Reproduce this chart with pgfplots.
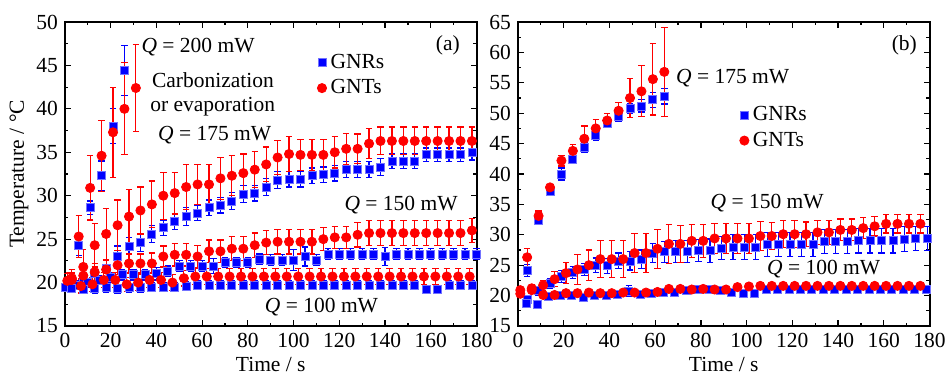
\documentclass[border=0pt]{standalone}
\usepackage{pgfplots}
\pgfplotsset{compat=1.18}
\usepackage{fontspec}
\setmainfont{Liberation Serif}
\definecolor{myblue}{RGB}{0,0,255}
\definecolor{myred}{RGB}{255,0,0}
\newcommand\fs{\fontsize{10.75}{12.5}\selectfont}
\pgfplotsset{
  panel/.style={
    scale only axis, width=205.75pt, height=152pt,
    xmin=0, xmax=180, xtick={0,20,...,180}, minor x tick num=1,
    minor y tick num=1,
    tick align=inside, tick pos=both,
    major tick length=3pt, minor tick length=1.6pt,
    axis line style={line width=1pt},
    every tick/.style={black, line width=0.6pt},
    tick label style={font=\fs},
    /pgf/number format/assume math mode=true,
    clip=false,
    every axis x label/.style={at={(axis description cs:0.5,-0.128)}, anchor=center, font=\fs},
    every axis y label/.style={at={(axis description cs:-0.112,0.5)}, rotate=90, anchor=center, font=\fs},
    legend style={draw=none, fill=none, font=\fs, inner sep=0pt, outer sep=0pt, row sep=0pt},
    legend cell align=left,
  },
  gnr/.style={only marks, mark=square*, mark size=2pt, color=myblue,
    mark options={fill=myblue, draw=myblue!55, line width=0.4pt},
    error bars/y dir=both, error bars/y explicit,
    error bars/error bar style={myblue, line width=0.6pt},
    error bars/error mark options={myblue, rotate=90, mark size=1.6pt, line width=0.6pt}},
  gnt/.style={only marks, mark=*, mark size=2.3pt, color=myred,
    mark options={fill=myred, draw=myred},
    error bars/y dir=both, error bars/y explicit,
    error bars/error bar style={myred, line width=0.6pt},
    error bars/error mark options={myred, rotate=90, mark size=1.6pt, line width=0.6pt}},
}
\begin{document}
\begin{tikzpicture}
\useasboundingbox (0,0) rectangle (475.5pt,189pt);
% ---------------- panel (a) ----------------
\begin{axis}[panel, at={(32.5pt,26pt)}, anchor=south west,
  ymin=15, ymax=50, ytick={15,20,...,50},
  xlabel={Time / s}, ylabel={Temperature / °C},
  legend style={at={(axis cs:110.4,43.84)}, anchor=west}]
\addplot[gnr] table[x=t,y=v,y error=e] {
t v e
3 19.8 0.5
8 20.3 0.6
13 21.0 0.8
18 21.6 1.0
23 23.0 1.2
28 24.2 1.0
33 24.6 1.0
38 25.6 1.0
43 26.3 0.9
48 27.0 0.9
53 27.6 1.0
58 28.0 0.9
63 28.6 0.9
68 28.9 0.9
73 29.4 1.0
78 30.2 1.0
83 30.3 0.9
88 31.0 1.0
93 31.8 1.0
98 31.9 0.9
103 31.9 0.9
108 32.3 0.9
113 32.4 0.9
118 32.6 0.9
123 33.0 0.9
128 33.0 0.9
133 33.0 0.9
138 33.3 1.0
143 34.0 0.9
148 34.0 0.9
153 34.0 0.9
158 34.7 0.8
163 34.7 0.8
168 34.7 0.8
173 34.7 0.8
178 35.0 0.9
};
\addlegendentry{GNRs}
\addplot[gnr, forget plot] table[x=t,y=v,y error=e] {
t v e
1 19.6 0.5
6 24.3 1.2
11 28.6 0.8
16 32.3 1.7
21 38.0 2.0
26 44.4 2.9
};
\addplot[gnr, forget plot] table[x=t,y=v,y error=e] {
t v e
0 19.5 0.4
5 19.7 0.5
10 20.0 0.5
15 20.3 0.5
20 20.6 0.6
25 20.9 0.6
30 20.9 0.6
35 20.9 0.6
40 21.0 0.7
45 21.3 0.6
50 21.9 0.6
55 21.9 0.6
60 21.9 0.6
65 21.9 0.9
70 22.3 0.6
75 22.3 0.6
80 22.3 0.6
85 22.7 0.6
90 22.6 0.6
95 22.6 0.6
100 22.6 1.2
105 23.0 1.1
110 22.6 0.6
115 23.3 0.6
120 23.3 0.6
125 23.3 0.6
130 23.3 0.6
135 23.3 0.6
140 23.0 1.0
145 23.3 0.6
150 23.3 0.6
155 23.3 0.6
160 23.3 0.6
165 23.3 0.6
170 23.3 0.6
175 23.3 0.6
180 23.3 0.6
};
\addplot[gnr, forget plot] table[x=t,y=v,y error=e] {
t v e
3 19.3 0.4
8 19.2 0.5
13 19.3 0.5
18 19.4 0.5
23 19.3 0.5
28 19.4 0.5
33 19.4 0.5
38 19.5 0.5
43 19.5 0.5
48 19.5 0.5
53 19.6 0.5
58 19.7 0.5
63 19.7 0.5
68 19.7 0.5
73 19.7 0.5
78 19.7 0.5
83 19.7 0.5
88 19.7 0.5
93 19.7 0.5
98 19.7 0.5
103 19.7 0.5
108 19.7 0.5
113 19.7 0.5
118 19.7 0.5
123 19.7 0.5
128 19.7 0.5
133 19.7 0.5
138 19.7 0.5
143 19.7 0.5
148 19.7 0.5
153 19.7 0.5
158 19.2 0.5
163 19.2 0.5
168 19.7 0.5
173 19.7 0.5
178 19.7 0.5
};
\addplot[gnt] table[x=t,y=v,y error=e] {
t v e
3 20.5 1.0
8 21.8 2.0
13 24.3 2.5
18 25.6 2.9
23 26.6 2.9
28 27.6 3.1
33 28.3 2.7
38 29.0 2.7
43 30.0 2.7
48 30.3 2.4
53 31.0 2.6
58 31.3 2.3
63 31.3 2.3
68 32.0 2.4
73 32.3 2.3
78 32.6 2.2
83 33.0 2.1
88 33.6 2.0
93 34.4 2.0
98 34.8 2.0
103 34.7 1.8
108 34.7 1.8
113 34.7 1.8
118 35.0 1.8
123 35.4 1.8
128 35.4 1.7
133 36.0 1.7
138 36.3 1.6
143 36.3 1.6
148 36.3 1.6
153 36.3 1.6
158 36.3 1.6
163 36.3 1.6
168 36.3 1.6
173 36.3 1.6
178 36.3 1.6
};
\addlegendentry{GNTs}
\addplot[gnt, forget plot] table[x=t,y=v,y error=e] {
t v e
1 20.2 0.8
6 25.3 2.4
11 30.9 3.7
16 34.6 4.1
21 37.3 5.2
26 40.0 5.3
31 42.4 5.0
};
\addplot[gnt, forget plot] table[x=t,y=v,y error=e] {
t v e
3 20.3 0.8
8 20.8 1.0
13 21.2 1.0
18 21.5 1.0
23 22.0 1.1
28 22.2 1.1
33 22.2 1.1
38 22.2 1.2
43 23.0 1.2
48 23.2 1.3
53 23.2 1.3
58 23.0 1.3
63 23.6 1.3
68 23.6 1.3
73 23.9 1.4
78 23.9 1.4
83 24.3 1.4
88 24.6 1.4
93 24.7 1.4
98 24.7 1.4
103 24.7 1.4
108 24.7 1.4
113 25.0 1.3
118 25.2 1.3
123 25.2 1.3
128 25.5 1.4
133 25.7 1.4
138 25.7 1.4
143 25.7 1.4
148 25.7 1.4
153 25.7 1.4
158 25.7 1.4
163 25.7 1.4
168 25.7 1.4
173 25.7 1.4
178 26.0 1.4
};
\addplot[gnt, forget plot] table[x=t,y=v,y error=e] {
t v e
2 20.3 0.8
7 19.6 0.8
12 19.8 0.8
17 20.3 0.9
22 20.3 0.9
27 19.8 0.8
32 20.0 0.9
37 20.3 0.9
42 20.3 0.9
47 20.0 0.9
52 20.5 0.9
57 20.7 0.95
62 20.7 0.95
67 20.7 0.95
72 20.7 0.95
77 20.7 0.95
82 20.7 0.95
87 20.7 0.95
92 20.7 0.95
97 20.7 0.95
102 20.7 0.95
107 20.7 0.95
112 20.7 0.95
117 20.7 0.95
122 20.7 0.95
127 20.7 0.95
132 20.7 0.95
137 20.7 0.95
142 20.7 0.95
147 20.7 0.95
152 20.7 0.95
157 20.7 0.95
162 20.7 0.95
167 20.7 0.95
172 20.7 0.95
177 20.7 0.95
};
\node[font=\fs] at (axis cs:58.2,47.1) {\textit{Q} = 200 mW};
\node[font=\fs] at (axis cs:64.7,43.3) {Carbonization};
\node[font=\fs] at (axis cs:64.6,40.2) {or evaporation};
\node[font=\fs] at (axis cs:65.5,37.0) {\textit{Q} = 175 mW};
\node[font=\fs] at (axis cs:167.5,47.3) {(a)};
\node[font=\fs] at (axis cs:147,28.9) {\textit{Q} = 150 mW};
\node[font=\fs] at (axis cs:112.2,17.2) {\textit{Q} = 100 mW};
\end{axis}
% ---------------- panel (b) ----------------
\begin{axis}[panel, at={(259pt,26pt)}, anchor=south west,
  ymin=15, ymax=65, ytick={15,20,...,65},
  xlabel={Time / s},
  legend style={at={(axis cs:97.0,47.57)}, anchor=west}]
\addplot[gnr] table[x=t,y=v,y error=e] {
t v e
4 24.1 1.0
9 32.4 0.6
14 37.2 0.8
19 40.0 1.0
24 42.4 0.7
29 44.4 0.8
34 46.3 0.8
39 48.3 0.6
44 49.4 0.8
49 50.8 0.8
54 51.2 1.0
59 52.2 1.2
64 52.8 1.3
};
\addlegendentry{GNRs}
\addplot[gnr, forget plot] table[x=t,y=v,y error=e] {
t v e
4 19.4 0.6
9 20.8 0.7
14 22.0 0.8
19 23.1 1.0
24 23.8 1.0
29 24.3 1.0
34 25.0 1.2
39 24.9 1.2
44 25.7 1.3
49 25.7 1.5
54 26.0 1.5
59 27.0 1.6
64 27.2 1.7
69 27.2 1.8
74 27.2 1.8
79 27.4 1.8
84 27.4 1.9
89 27.8 1.9
94 28.0 2.0
99 28.0 2.0
104 28.0 2.0
109 28.4 2.0
114 28.4 2.0
119 28.4 2.0
124 28.4 2.0
129 28.4 2.0
134 28.9 2.0
139 28.9 2.0
144 28.9 2.0
149 29.0 2.0
154 29.0 2.0
159 29.0 2.0
164 29.0 2.0
169 29.3 2.0
174 29.4 2.0
179 29.4 2.0
};
\addplot[gnr, forget plot] table[x=t,y=v,y error=e] {
t v e
3.5 18.7 0.4
8.5 18.6 0.4
13.5 19.9 0.4
18.5 20.0 0.4
23.5 20.1 0.4
28.5 19.7 0.4
33.5 20.1 0.4
38.5 20.1 0.4
43.5 20.2 0.4
48.5 20.7 0.9
53.5 20.2 0.4
58.5 20.3 0.4
63.5 20.5 0.4
68.5 20.5 0.4
73.5 20.8 0.4
78.5 21.0 0.4
83.5 21.0 0.4
88.5 20.8 0.4
93.5 20.6 0.4
98.5 20.4 0.4
103.5 20.3 0.4
108.5 21.1 0.4
113.5 21.1 0.4
118.5 21.1 0.4
123.5 21.1 0.4
128.5 21.1 0.4
133.5 21.1 0.4
138.5 21.1 0.4
143.5 21.1 0.4
148.5 21.1 0.4
153.5 21.1 0.4
158.5 21.1 0.4
163.5 21.1 0.4
168.5 21.1 0.4
173.5 21.1 0.4
178.5 21.1 0.4
};
\addplot[gnt] table[x=t,y=v,y error=e] {
t v e
4 26.3 1.5
9 33.1 0.8
14 37.8 0.5
19 42.2 0.9
24 43.8 1.0
29 45.8 2.1
34 47.5 1.4
39 48.8 1.2
44 50.4 1.4
49 52.5 3.2
54 53.6 4.2
59 55.6 5.9
64 56.8 7.3
};
\addlegendentry{GNTs}
\addplot[gnt, forget plot] table[x=t,y=v,y error=e] {
t v e
1 20.9 0.5
6 21.2 0.6
11 21.7 0.8
16 22.7 1.2
21 23.7 1.7
26 24.3 2.5
31 25.0 2.5
36 26.0 3.0
41 26.0 3.0
46 26.0 3.0
51 27.0 3.2
56 27.0 3.2
61 27.7 3.2
66 28.5 3.2
71 28.5 3.0
76 29.0 2.7
81 29.0 2.7
86 29.4 2.5
91 29.4 2.5
96 29.4 2.5
101 29.4 2.5
106 29.8 2.4
111 29.8 2.2
116 30.1 2.2
121 30.1 2.2
126 30.1 2.0
131 30.4 2.0
136 30.4 2.0
141 30.8 1.8
146 30.8 1.8
151 31.1 1.7
156 31.4 1.6
161 31.8 1.5
166 31.8 1.5
171 31.8 1.5
176 31.8 1.5
};
\addplot[gnt, forget plot] table[x=t,y=v,y error=e] {
t v e
1 20.3 0.5
6 20.9 0.5
11 20.1 0.4
16 20.1 0.4
21 20.4 0.4
26 20.4 0.4
31 20.5 0.4
36 20.4 0.4
41 20.4 0.4
46 20.5 0.4
51 20.5 0.4
56 20.5 0.4
61 20.6 0.4
66 21.1 0.4
71 21.1 0.4
76 21.0 0.4
81 21.1 0.4
86 21.0 0.4
91 21.0 0.4
96 21.4 0.4
101 21.5 0.4
106 21.6 0.4
111 21.6 0.4
116 21.6 0.4
121 21.6 0.4
126 21.6 0.4
131 21.6 0.4
136 21.6 0.4
141 21.6 0.4
146 21.6 0.4
151 21.6 0.4
156 21.6 0.4
161 21.6 0.4
166 21.6 0.4
171 21.6 0.4
176 21.6 0.4
};
\node[font=\fs] at (axis cs:93.9,55.8) {\textit{Q} = 175 mW};
\node[font=\fs] at (axis cs:109,35.2) {\textit{Q} = 150 mW};
\node[font=\fs] at (axis cs:133.7,24.3) {\textit{Q} = 100 mW};
\node[font=\fs] at (axis cs:169,61.2) {(b)};
\end{axis}
\end{tikzpicture}
\end{document}
